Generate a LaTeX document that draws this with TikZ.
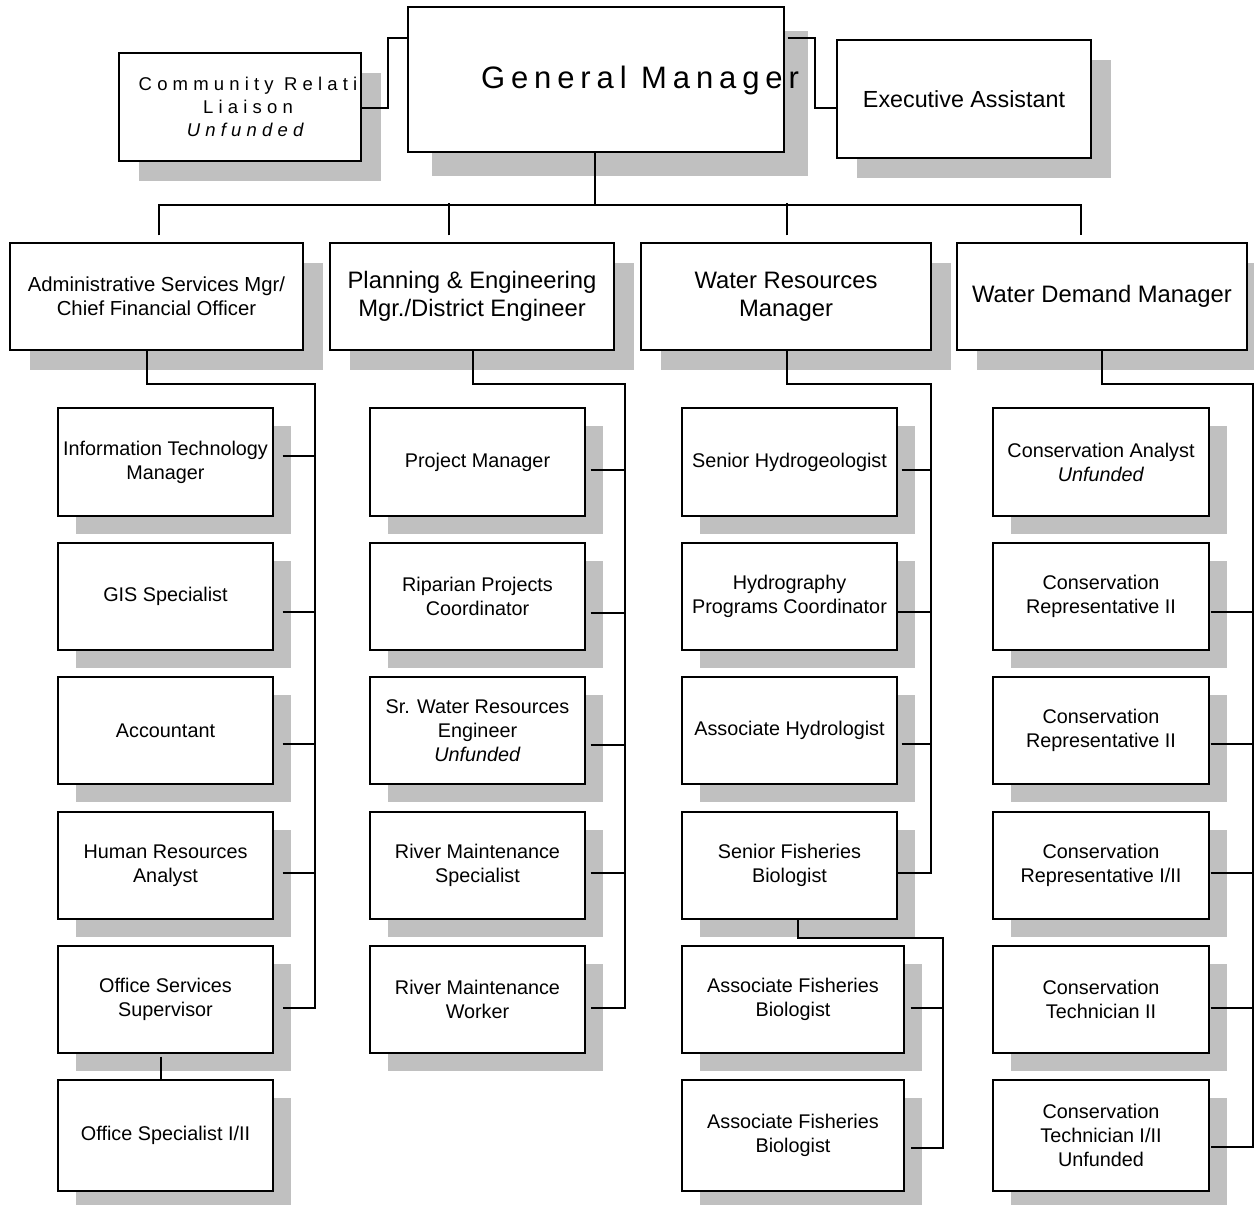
\documentclass[tikz,border=0pt]{standalone}
\usepackage{fontspec}
\setmainfont{Liberation Sans}
\newfontfamily\gmfont[LetterSpace=19]{Liberation Sans}
\newfontfamily\crfont[LetterSpace=28]{Liberation Sans}
\usetikzlibrary{shadows}
\definecolor{shade}{RGB}{192,192,192}
\begin{document}
\begin{tikzpicture}[x=1pt, y=-1pt,
    frame/.style={draw, line width=1.4pt, fill=white, align=center, inner sep=0pt},
    backdrop/.style={drop shadow={shadow xshift=#1, shadow yshift=-#1, fill=shade, opacity=1}},
    post/.style={frame, backdrop=18pt, minimum width=215pt, minimum height=107pt,
      font=\fontsize{19.8}{24}\selectfont},
    head/.style={frame, backdrop=20pt, minimum width=290pt, minimum height=107pt,
      font=\fontsize{23.8}{28}\selectfont},
    link/.style={line width=1.6pt}]
  \useasboundingbox (0,0) rectangle (1254,1205);

  \node[frame, backdrop=24pt, minimum width=376pt, minimum height=145pt] (gm) at (596,79.5) {};
  \node[font=\gmfont\fontsize{31}{36}\selectfont] (gmtxt) at (640,80) {General Manager};
  \node[frame, backdrop=20pt, minimum width=242pt, minimum height=108pt] (cr) at (240,107) {};
  \node[font=\crfont\fontsize{18.5}{23}\selectfont, align=center] (crtxt) at (248,107)
    {Community Relati\\Liaison\\\textit{Unfunded}};
  \node[frame, backdrop=20pt, minimum width=254pt, minimum height=118pt,
    font=\fontsize{23.3}{28}\selectfont] (ea) at (964,99) {Executive Assistant};

  \node[head, minimum width=293pt, font=\fontsize{20.3}{24}\selectfont] (asm) at (156.5,296.5)
    {Administrative Services Mgr/\\Chief Financial Officer};
  \node[head, minimum width=284pt] (pe) at (472,296.5) {Planning \& Engineering\\Mgr./District Engineer};
  \node[head] (wrm) at (786,296.5) {Water Resources\\Manager};
  \node[head] (wdm) at (1102,296.5) {Water Demand Manager};

  \node[post, minimum height=108pt] (it) at (165.5,462) {Information Technology\\Manager};
  \node[post] (gis) at (165.5,596.5) {GIS Specialist};
  \node[post] (acct) at (165.5,730.5) {Accountant};
  \node[post] (hra) at (165.5,865.5) {Human Resources\\Analyst};
  \node[post] (oss) at (165.5,999.5) {Office Services\\Supervisor};
  \node[post, minimum height=111pt] (os) at (165.5,1135.5) {Office Specialist I/II};

  \node[post, minimum height=108pt] (pm) at (477.5,462) {Project Manager};
  \node[post] (rpc) at (477.5,596.5) {Riparian Projects\\Coordinator};
  \node[post] (swre) at (477.5,730.5) {Sr. Water Resources\\Engineer\\\textit{Unfunded}};
  \node[post] (rms) at (477.5,865.5) {River Maintenance\\Specialist};
  \node[post] (rmw) at (477.5,999.5) {River Maintenance\\Worker};

  \node[post, minimum height=108pt] (sh) at (789.5,462) {Senior Hydrogeologist};
  \node[post] (hpc) at (789.5,596.5) {Hydrography\\Programs Coordinator};
  \node[post] (ah) at (789.5,730.5) {Associate Hydrologist};
  \node[post] (sfb) at (789.5,865.5) {Senior Fisheries\\Biologist};
  \node[post, minimum width=222pt] (afba) at (793,999.5) {Associate Fisheries\\Biologist};
  \node[post, minimum width=222pt, minimum height=111pt] (afbb) at (793,1135.5) {Associate Fisheries\\Biologist};

  \node[post, minimum width=216pt, minimum height=108pt] (ca) at (1101,462) {Conservation Analyst\\\textit{Unfunded}};
  \node[post, minimum width=216pt] (crpa) at (1101,596.5) {Conservation\\Representative II};
  \node[post, minimum width=216pt] (crpb) at (1101,730.5) {Conservation\\Representative II};
  \node[post, minimum width=216pt] (crpc) at (1101,865.5) {Conservation\\Representative I/II};
  \node[post, minimum width=216pt] (cta) at (1101,999.5) {Conservation\\Technician II};
  \node[post, minimum width=216pt, minimum height=111pt] (ctb) at (1101,1135.5)
    {Conservation\\Technician I/II\\Unfunded};

  \begin{scope}[link]
    \draw ([yshift=-1]cr.east) -- ++(26,0) |- ([yshift=41.5]gm.west);
    \draw ([xshift=3,yshift=41.5]gm.east) -- ++(27,0) |- ([yshift=-9]ea.west);
    \draw ([xshift=-1]gm.south) -- ++(0,52) coordinate (bus);
    \draw ([xshift=2.5,yshift=7]asm.north) |- (bus) -| ([xshift=-21,yshift=7]wdm.north);
    \draw ([xshift=-23,yshift=7]pe.north) -- ++(0,-32);
    \draw ([xshift=1,yshift=7]wrm.north) -- ++(0,-32);

    \draw ([xshift=-9.5]asm.south) -- ++(0,33) -- ++(168,0) coordinate (asmbus)
      |- ([xshift=9,yshift=-8.5]oss.east);
    \draw ([xshift=9,yshift=6]it.east) -| (asmbus);
    \draw ([xshift=9,yshift=-15.5]gis.east) -| (asmbus);
    \draw ([xshift=9,yshift=-13.5]acct.east) -| (asmbus);
    \draw ([xshift=9,yshift=-7.5]hra.east) -| (asmbus);
    \draw ([xshift=-4.5,yshift=-3]oss.south) -- ([xshift=-4.5]os.north);

    \draw ([xshift=1]pe.south) -- ++(0,33) -- ++(152,0) coordinate (pebus)
      |- ([xshift=5,yshift=-8.5]rmw.east);
    \draw ([xshift=5,yshift=-8]pm.east) -| (pebus);
    \draw ([xshift=5,yshift=-16.5]rpc.east) -| (pebus);
    \draw ([xshift=5,yshift=-14.5]swre.east) -| (pebus);
    \draw ([xshift=5,yshift=-7.5]rms.east) -| (pebus);

    \draw ([xshift=1]wrm.south) -- ++(0,33) -- ++(144,0) coordinate (wrmbus)
      |- ([yshift=-7.5]sfb.east);
    \draw ([xshift=4,yshift=-8]sh.east) -| (wrmbus);
    \draw ([yshift=-15.5]hpc.east) -| (wrmbus);
    \draw ([xshift=4,yshift=-13.5]ah.east) -| (wrmbus);
    \draw ([xshift=8.5]sfb.south) -- ++(0,18) -- ++(145,0) coordinate (sfbbus)
      |- ([xshift=6,yshift=-12.5]afbb.east);
    \draw ([xshift=6,yshift=-8.5]afba.east) -| (sfbbus);

    \draw (wdm.south) -- ++(0,33) -- ++(151,0) coordinate (wdmbus)
      |- ([xshift=1,yshift=-11.5]ctb.east);
    \draw ([xshift=1,yshift=-15.5]crpa.east) -| (wdmbus);
    \draw ([xshift=1,yshift=-13.5]crpb.east) -| (wdmbus);
    \draw ([xshift=1,yshift=-7.5]crpc.east) -| (wdmbus);
    \draw ([xshift=1,yshift=-8.5]cta.east) -| (wdmbus);
  \end{scope}
\end{tikzpicture}
\end{document}
